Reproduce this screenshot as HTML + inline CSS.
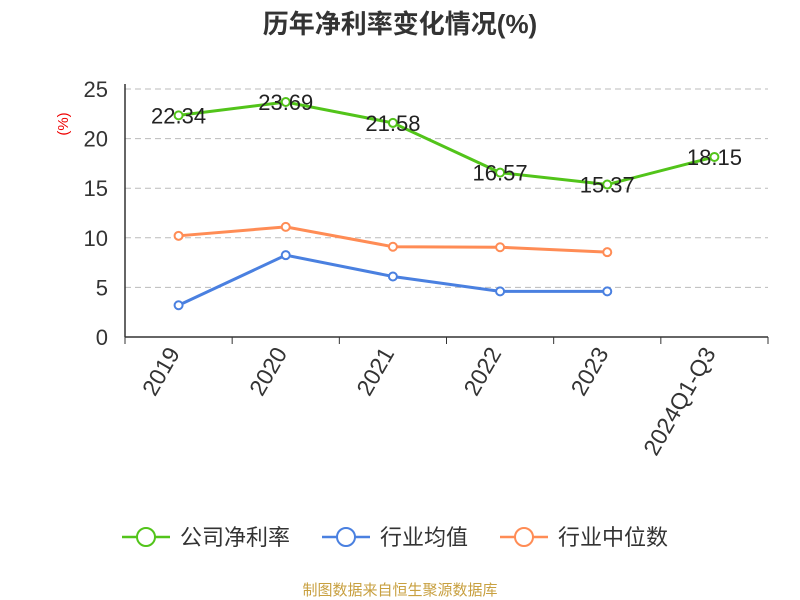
<!DOCTYPE html>
<html><head><meta charset="utf-8"><style>
body{margin:0;background:#fff;}
svg{display:block;font-family:"Liberation Sans","Noto Sans CJK SC",sans-serif;}
</style></head><body>
<svg id="chart" width="800" height="600">
<text x="400" y="33" text-anchor="middle" font-size="26" font-weight="bold" fill="#333">历年净利率变化情况(%)</text>
<text x="68" y="124" text-anchor="middle" font-size="15" fill="#e00" transform="rotate(-90 68 124)">(%)</text>
<g id="grid"></g><g id="axes"></g><g id="series"></g>
<g>
<g><line x1="122" y1="537" x2="170" y2="537" stroke="#52c41a" stroke-width="2.5"/><circle cx="146" cy="537" r="9" fill="#fff" stroke="#52c41a" stroke-width="2"/><text x="180" y="545" font-size="22" fill="#333">公司净利率</text></g>
<g><line x1="322" y1="537" x2="370" y2="537" stroke="#4a80e0" stroke-width="2.5"/><circle cx="346" cy="537" r="9" fill="#fff" stroke="#4a80e0" stroke-width="2"/><text x="380" y="545" font-size="22" fill="#333">行业均值</text></g>
<g><line x1="500" y1="537" x2="548" y2="537" stroke="#ff8c55" stroke-width="2.5"/><circle cx="524" cy="537" r="9" fill="#fff" stroke="#ff8c55" stroke-width="2"/><text x="558" y="545" font-size="22" fill="#333">行业中位数</text></g>
</g>
<text x="400" y="595" text-anchor="middle" font-size="15" fill="#c8a040">制图数据来自恒生聚源数据库</text>
</svg>
<script>
const categories=["2019","2020","2021","2022","2023","2024Q1-Q3"];
const companyValues=[22.34,23.69,21.58,16.57,15.37,18.15];
const industryAvg=[3.2,8.25,6.1,4.6,4.6];
const industryMedian=[10.2,11.1,9.1,9.05,8.55];
const yTicks=[0,5,10,15,20,25];
const NS="http://www.w3.org/2000/svg";
const L=125,R=768,T=89,B=337,yMax=25;
const bw=(R-L)/categories.length;
const x=i=>L+bw*(i+0.5);
const y=v=>B-(v/yMax)*(B-T);
function mk(tag,attrs,parent){const e=document.createElementNS(NS,tag);for(const k in attrs)e.setAttribute(k,attrs[k]);parent.appendChild(e);return e;}
const grid=document.getElementById('grid'),axes=document.getElementById('axes'),ser=document.getElementById('series');
yTicks.forEach(t=>{
 if(t>0){const g=mk('line',{x1:L,x2:R,y1:y(t),y2:y(t),stroke:'#bbb','stroke-dasharray':'6,4'},grid);
 
 }
 const tx=mk('text',{x:L-17,y:y(t)+8,'text-anchor':'end','font-size':22,fill:'#333'},axes);tx.textContent=t;
 
 
});
const ax=mk('line',{x1:L,x2:L,y1:T-5,y2:B,stroke:'#333','stroke-width':1.5},axes);


const xa=mk('line',{x1:L,x2:R,y1:B,y2:B,stroke:'#333','stroke-width':1.5},axes);


for(let i=0;i<=categories.length;i++){mk('line',{x1:L+bw*i,x2:L+bw*i,y1:B,y2:B+7,stroke:'#333'},axes);}
categories.forEach((c,i)=>{
 const ox=x(i)+2,oy=B+16;
 const tx=mk('text',{x:ox,y:oy,'text-anchor':'end','font-size':23,fill:'#333',transform:`rotate(-60 ${ox} ${oy})`},axes);tx.textContent=c;
 
 
});
function series(vals,color,name,labels){
 const p=mk('polyline',{points:vals.map((v,i)=>x(i)+','+y(v)).join(' '),fill:'none',stroke:color,'stroke-width':3},ser);
 
 
 vals.forEach((v,i)=>{
  const c=mk('circle',{cx:x(i),cy:y(v),r:4,fill:'#fff',stroke:color,'stroke-width':2},ser);
  
  
  if(labels){const t=mk('text',{x:x(i),y:y(v)+8,'text-anchor':'middle','font-size':22,fill:'#222'},ser);t.textContent=v.toFixed(2);
  
  }
 });
}
series(industryMedian,'#ff8c55','industry-median',false);
series(industryAvg,'#4a80e0','industry-avg',false);
series(companyValues,'#52c41a','company',true);
</script>
</body></html>
